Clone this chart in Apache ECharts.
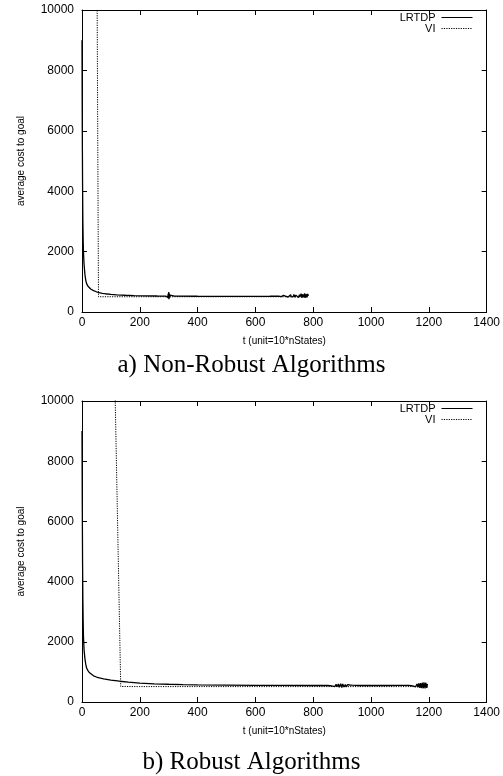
<!DOCTYPE html>
<html>
<head>
<meta charset="utf-8">
<script src="https://cdn.jsdelivr.net/npm/echarts@6/dist/echarts.min.js"></script>
<style>
html,body{margin:0;padding:0;background:#fff;}
#chart{width:503px;height:776px;}
</style>
</head>
<body>
<div id="chart"></div>
<script>
// ---- data ----
const xTicks = [0, 200, 400, 600, 800, 1000, 1200, 1400];
const yTicks = [0, 2000, 4000, 6000, 8000, 10000];
const seriesNames = ['LRTDP', 'VI'];
const panelTitles = ['a) Non-Robust Algorithms', 'b) Robust Algorithms'];
const xAxisTitle = 't (unit=10*nStates)';
const yAxisTitle = 'average cost to goal';

const topLRTDP = [
  [0,9000],[1,6000],[2,4200],[3,3000],[4,2400],[5,2000],[7,1600],[10,1250],[13,1050],[16,940],
  [20,860],[25,800],[30,760],[40,710],[50,670],[60,640],[70,620],[80,605],[100,585],[120,570],
  [150,555],[180,545],[220,535],[260,530],[290,528],
  [292,530],[294,510],[296,560],[297,480],[298,600],[299,450],[300,660],[301,420],[302,610],
  [303,470],[304,560],[306,500],[308,530],[310,522],
  [320,525],[400,522],[500,520],[600,520],[650,522],[680,525],
  [690,510],[692,540],[695,515],[697,550],[701,505],[703,530],[706,520],[709,560],[713,495],
  [715,545],[719,515],[722,570],[724,500],[728,555],[731,510],[733,580],[737,485],[740,560],
  [743,505],[746,590],[749,475],[752,575],[754,500],[758,605],[761,470],[763,585],[767,490],
  [770,615],[772,470],[775,595],[778,485],[781,600],[783,530]
];
const topVI = [
  [0,20000],[50,20000],[52,11000],[57,505],[100,505],[200,505],[400,505],[600,505],[783,505]
];
const botLRTDP = [
  [0,9000],[1,6500],[2,4600],[3,3400],[4,2700],[5,2200],[7,1750],[10,1450],[13,1250],[16,1130],
  [20,1050],[25,980],[30,930],[40,870],[50,830],[60,800],[75,770],[100,730],[130,690],[160,660],
  [200,630],[250,605],[300,590],[350,578],[400,570],[500,560],[600,553],[700,550],[800,548],[850,548],
  [860,540],[863,565],[867,530],[870,575],[875,515],[879,590],[882,505],[887,600],[890,490],[895,610],
  [899,480],[902,600],[907,495],[911,585],[914,505],[919,575],[923,520],[926,565],[931,530],[935,560],
  [940,545],[960,548],[1000,548],[1050,548],[1100,550],[1130,552],
  [1140,540],[1143,570],[1147,525],[1151,585],[1154,505],[1159,600],[1162,490],[1165,620],[1169,470],
  [1171,630],[1175,460],[1177,640],[1181,455],[1183,650],[1187,450],[1189,640],[1193,470],[1195,600]
];
const botVI = [
  [0,20000],[108,20000],[112,11500],[134,515],[200,512],[400,512],[600,512],[800,512],[1000,512],[1195,512]
];

// ---- chart ----
const chart = echarts.init(document.getElementById('chart'), null, {renderer: 'canvas'});
const sans = 'Liberation Sans, Arial, Helvetica, sans-serif';
const serif = 'Liberation Serif, Times New Roman, serif';

const grids = [
  {left: 82, top: 10, width: 406, height: 302},
  {left: 82, top: 401, width: 406, height: 301}
];

function xAx(gi, pos, labels) {
  return {
    type: 'value', gridIndex: gi, position: pos, min: xTicks[0], max: xTicks[xTicks.length - 1], interval: xTicks[1] - xTicks[0],
    name: labels ? xAxisTitle : '', nameLocation: 'middle', nameGap: 24,
    nameTextStyle: {fontFamily: sans, fontSize: 10, color: '#000'},
    axisLine: {show: true, onZero: false, lineStyle: {color: '#000', width: 1}},
    axisTick: {show: true, inside: true, length: 5, lineStyle: {color: '#000'}},
    axisLabel: {show: labels, fontFamily: sans, fontSize: 12, color: '#000', margin: 5, formatter: v => String(v)},
    splitLine: {show: false}
  };
}
function yAx(gi, pos, labels) {
  return {
    type: 'value', gridIndex: gi, position: pos, min: yTicks[0], max: yTicks[yTicks.length - 1], interval: yTicks[1] - yTicks[0],
    name: labels ? yAxisTitle : '', nameLocation: 'middle', nameGap: 56, nameRotate: 90,
    nameTextStyle: {fontFamily: sans, fontSize: 10, color: '#000'},
    axisLine: {show: true, onZero: false, lineStyle: {color: '#000', width: 1}},
    axisTick: {show: true, inside: true, length: 5, lineStyle: {color: '#000'}},
    axisLabel: {show: labels, fontFamily: sans, fontSize: 12, color: '#000', margin: 8, formatter: v => String(v)},
    splitLine: {show: false}
  };
}

function mkSeries(name, data, gi, dotted) {
  return {
    name: name, type: 'line', data: data,
    xAxisIndex: gi * 2, yAxisIndex: gi * 2,
    showSymbol: false, symbol: 'none', clip: true, animation: false,
    lineStyle: dotted ? {color: '#000', width: 1, type: [1.2, 1.2]} : {color: '#000', width: 1.3, type: 'solid'},
    itemStyle: {color: '#000'}
  };
}

function mkLegend(top) {
  return {
    data: seriesNames, orient: 'vertical', align: 'right', right: 30, top: top, itemGap: 0,
    itemWidth: 31, itemHeight: 11, padding: 0, selectedMode: false,
    itemStyle: {opacity: 0, borderWidth: 0},
    lineStyle: {width: 1},
    textStyle: {fontFamily: sans, fontSize: 11, color: '#000', padding: [0, 1, 0, 0]}
  };
}

const option = {
  backgroundColor: '#fff',
  animation: false,
  grid: grids.map(g => Object.assign({containLabel: false}, g)),
  xAxis: [xAx(0, 'bottom', true), xAx(0, 'top', false), xAx(1, 'bottom', true), xAx(1, 'top', false)],
  yAxis: [yAx(0, 'left', true), yAx(0, 'right', false), yAx(1, 'left', true), yAx(1, 'right', false)],
  title: [
    {text: panelTitles[0], left: 'center', top: 348, textStyle: {fontFamily: serif, fontSize: 25, fontWeight: 'normal', color: '#000'}},
    {text: panelTitles[1], left: 'center', top: 745, textStyle: {fontFamily: serif, fontSize: 25, fontWeight: 'normal', color: '#000'}}
  ],
  legend: [mkLegend(12), mkLegend(403)],
  series: [
    mkSeries(seriesNames[0], topLRTDP, 0, false),
    mkSeries(seriesNames[1], topVI, 0, true),
    mkSeries(seriesNames[0], botLRTDP, 1, false),
    mkSeries(seriesNames[1], botVI, 1, true)
  ]
};
chart.setOption(option);
</script>
</body>
</html>
